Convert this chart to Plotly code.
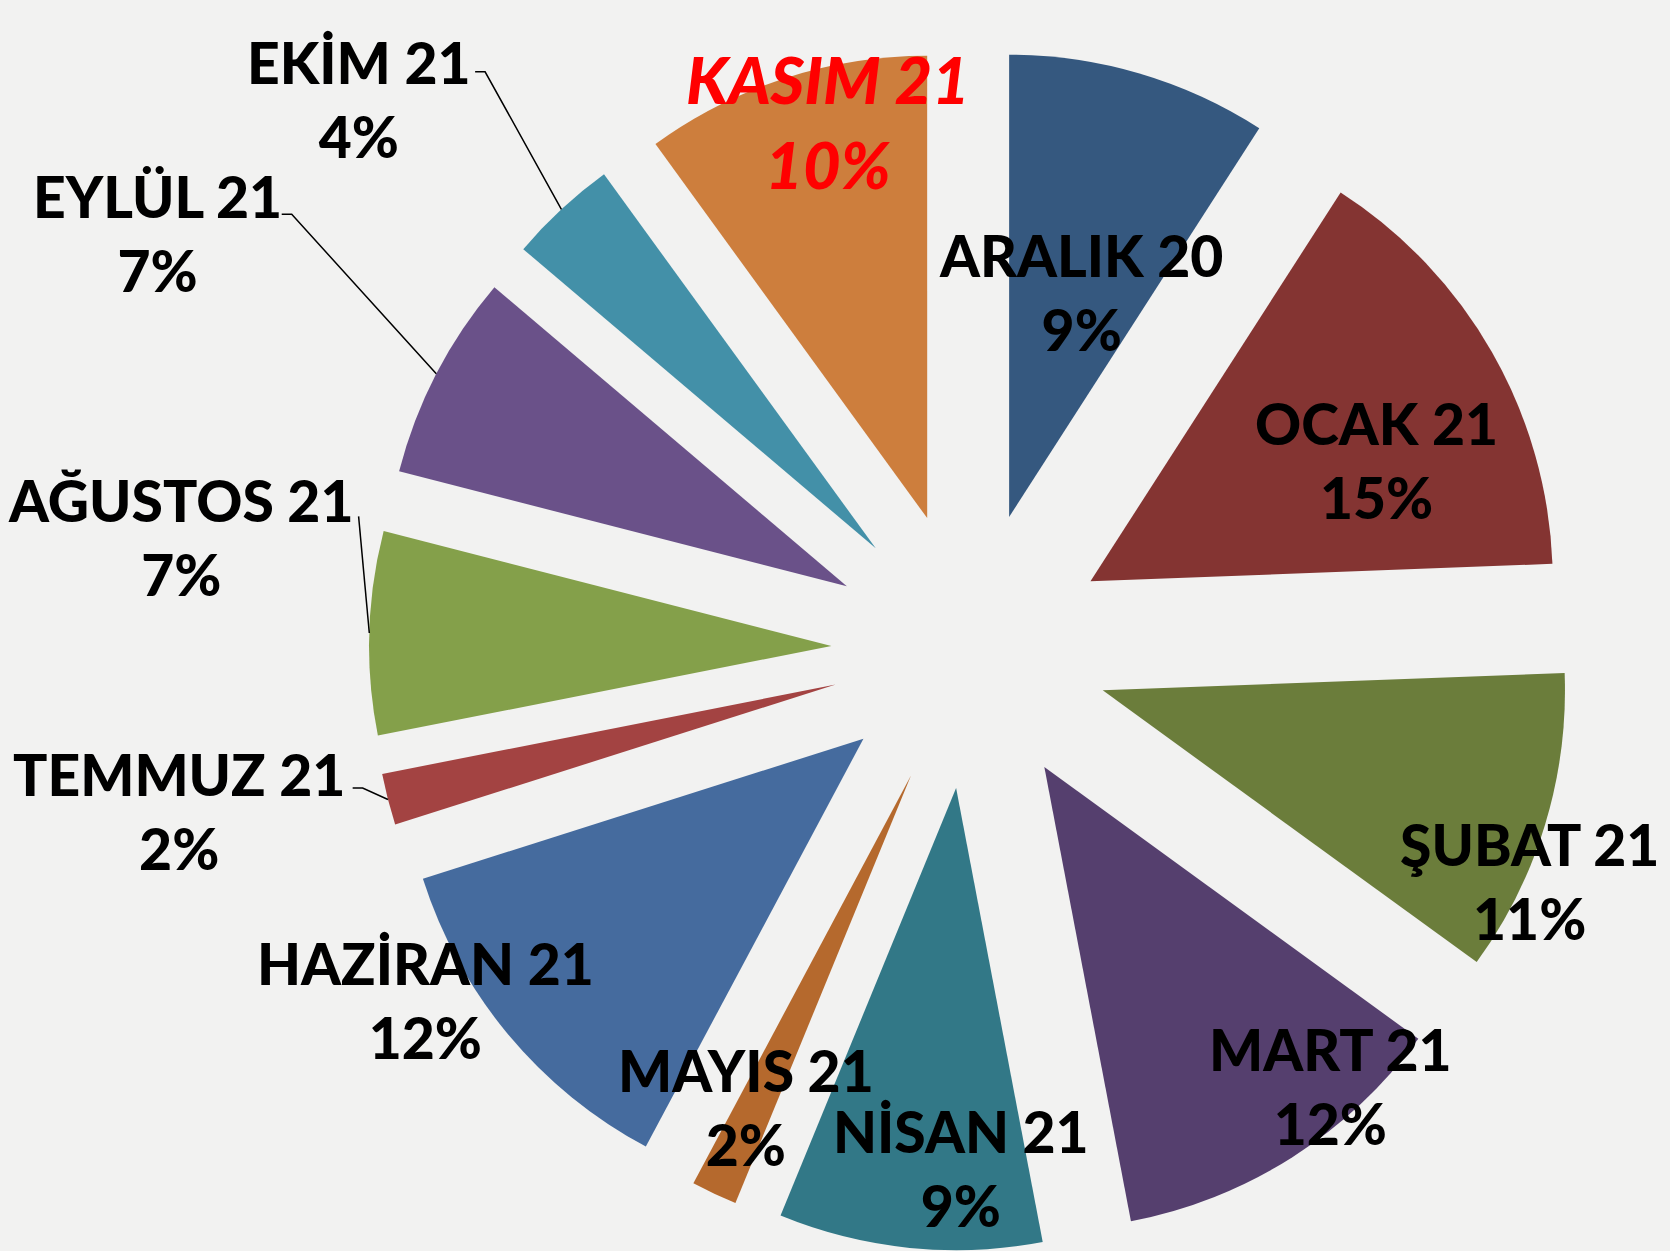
import math
import plotly.graph_objects as go

# ---- data ----
months = ["ARALIK 20", "OCAK 21", "ŞUBAT 21", "MART 21", "NİSAN 21", "MAYIS 21",
          "HAZİRAN 21", "TEMMUZ 21", "AĞUSTOS 21", "EYLÜL 21", "EKİM 21", "KASIM 21"]
shares = [9.1, 15.3, 10.6, 12.0, 9.2, 1.6, 12.3, 1.8, 7.1, 7.2, 3.8, 10.0]

# ---- style ----
colors = ["#35587F", "#843432", "#6B7D3B", "#553F6E", "#327887", "#B5692D",
          "#456B9E", "#A34342", "#84A04A", "#6A5189", "#4390A8", "#CD7E3D"]
# label placement: radius factor (x pie radius) and angle tweak (deg) from slice middle
lab_k = [0.81, 0.97, 1.31, 1.225, 1.12, 1.10, 1.40, 1.747, 1.725, 1.975, 1.78, 1.183]
lab_da = [0.9, 4.6, 5.5, -7.2, -4.8, 0.9, 7.0, 2.9, 6.5, -0.2, -5.1, 3.0]
# leader lines: index -> (dx, dy from label centre, elbow length) in px
leaders = {10: (116, -27, 10), 9: (124, -19, 10), 8: (178, -21, 0), 7: (174, -23, 10)}

W, H = 1670, 1251
PULL = 0.3
dom_x = [0.2210, 0.9407]
dom_y = [0.0, 1 - 49 / H]

cx = W * (dom_x[0] + dom_x[1]) / 2
cy = H * (1 - (dom_y[0] + dom_y[1]) / 2)
R = min(W * (dom_x[1] - dom_x[0]), H * (dom_y[1] - dom_y[0])) / 2 / (1 + PULL)


def to_paper(px, py):
    return px / W, 1 - py / H


def polar(ang_deg, dist):
    a = math.radians(ang_deg)
    return cx + dist * math.sin(a), cy - dist * math.cos(a)


fig = go.Figure(go.Pie(
    labels=months, values=shares, sort=False, direction="clockwise", rotation=0,
    marker=dict(colors=colors, line=dict(width=0)),
    pull=[PULL] * len(shares), textinfo="none", hoverinfo="skip",
    domain=dict(x=dom_x, y=dom_y), showlegend=False,
))

total = sum(shares)
cum = 0
annotations = []
shapes = []
for i, (m, v) in enumerate(zip(months, shares)):
    mid = (cum + v / 2) / total * 360
    cum += v
    lx, ly = polar(mid + lab_da[i], lab_k[i] * R)
    pct = f"{round(100 * v / total)}%"
    if m.startswith("KASIM"):
        txt = f"<i>{m}<br>{pct}</i>"
        font = dict(family="Lato", size=65, color="#FF0000", weight=900)
    else:
        txt = f"{m}<br>{pct}"
        font = dict(family="Lato", size=57, color="#000000", weight=900)
    px_, py_ = to_paper(lx, ly)
    annotations.append(dict(x=px_, y=py_, xref="paper", yref="paper", text=txt,
                            showarrow=False, xanchor="center", yanchor="middle",
                            font=font))
    if i in leaders:
        dx, dy, el = leaders[i]
        sx, sy = lx + dx, ly + dy
        ex, ey = polar(mid, R * (1 + PULL))
        pts = [(sx, sy)]
        if el:
            pts.append((sx + el, sy))
        pts.append((ex, ey))
        path = "M " + " L ".join(f"{to_paper(a, b)[0]:.5f},{to_paper(a, b)[1]:.5f}" for a, b in pts)
        shapes.append(dict(type="path", xref="paper", yref="paper", path=path,
                           line=dict(color="#000000", width=1.5)))

fig.update_layout(
    width=W, height=H, margin=dict(l=0, r=0, t=0, b=0),
    paper_bgcolor="#F2F2F1", plot_bgcolor="#F2F2F1",
    annotations=annotations, shapes=shapes,
)
fig.write_html("out.html", config={"displayModeBar": False},
               post_script="document.body.style.margin='0';")
